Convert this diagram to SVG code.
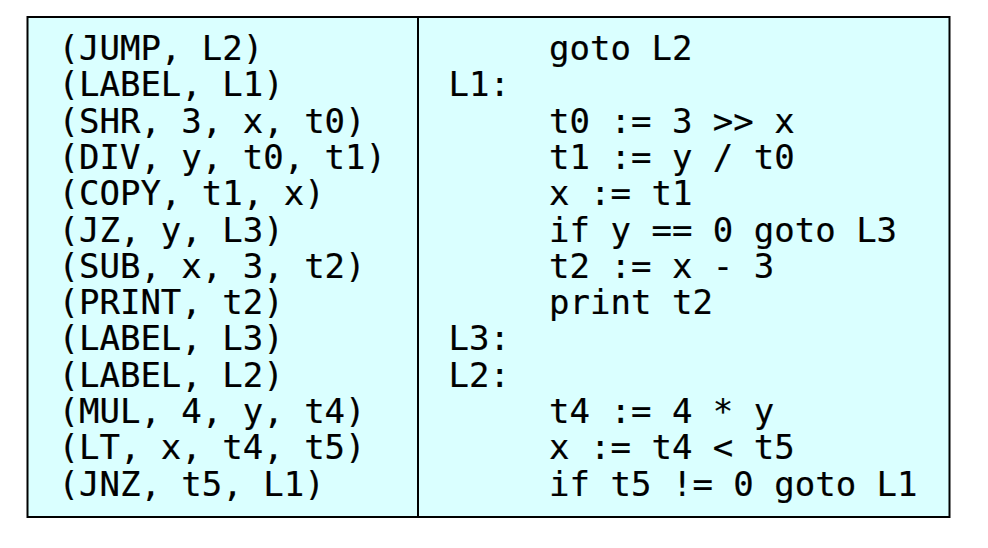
<svg xmlns="http://www.w3.org/2000/svg" width="988" height="548" viewBox="0 0 988 548">
<style>
  .code { font-family: "DejaVu Sans Mono", "Liberation Mono", monospace; font-size: 34px; fill: #000; stroke: #000; stroke-width: 0.2px; }
  .cell { fill: #daffff; stroke: none; }
  .border { fill: none; stroke: #000; stroke-width: 2; }
</style>
<rect width="988" height="548" fill="#fff"/>
<g id="left-cell">
  <rect class="cell" x="27.5" y="17" width="390.5" height="500"/>
  <text class="code" x="58.5" y="60">(JUMP, L2)</text>
  <text class="code" x="58.5" y="96.3">(LABEL, L1)</text>
  <text class="code" x="58.5" y="132.6">(SHR, 3, x, t0)</text>
  <text class="code" x="58.5" y="168.9">(DIV, y, t0, t1)</text>
  <text class="code" x="58.5" y="205.2">(COPY, t1, x)</text>
  <text class="code" x="58.5" y="241.5">(JZ, y, L3)</text>
  <text class="code" x="58.5" y="277.8">(SUB, x, 3, t2)</text>
  <text class="code" x="58.5" y="314.1">(PRINT, t2)</text>
  <text class="code" x="58.5" y="350.4">(LABEL, L3)</text>
  <text class="code" x="58.5" y="386.7">(LABEL, L2)</text>
  <text class="code" x="58.5" y="423">(MUL, 4, y, t4)</text>
  <text class="code" x="58.5" y="459.3">(LT, x, t4, t5)</text>
  <text class="code" x="58.5" y="495.6">(JNZ, t5, L1)</text>
</g>
<g id="right-cell">
  <rect class="cell" x="418" y="17" width="531.5" height="500"/>
  <text class="code" x="549.1" y="60">goto L2</text>
  <text class="code" x="448.6" y="96.3">L1:</text>
  <text class="code" x="549.1" y="132.6">t0 := 3 &gt;&gt; x</text>
  <text class="code" x="549.1" y="168.9">t1 := y / t0</text>
  <text class="code" x="549.1" y="205.2">x := t1</text>
  <text class="code" x="549.1" y="241.5">if y == 0 goto L3</text>
  <text class="code" x="549.1" y="277.8">t2 := x - 3</text>
  <text class="code" x="549.1" y="314.1">print t2</text>
  <text class="code" x="448.6" y="350.4">L3:</text>
  <text class="code" x="448.6" y="386.7">L2:</text>
  <text class="code" x="549.1" y="423">t4 := 4 * y</text>
  <text class="code" x="549.1" y="459.3">x := t4 &lt; t5</text>
  <text class="code" x="549.1" y="495.6">if t5 != 0 goto L1</text>
</g>
<g id="connectors">
  <rect class="border" x="27.5" y="17" width="922" height="500"/>
  <line class="border" x1="418" y1="17" x2="418" y2="517"/>
</g>
</svg>
